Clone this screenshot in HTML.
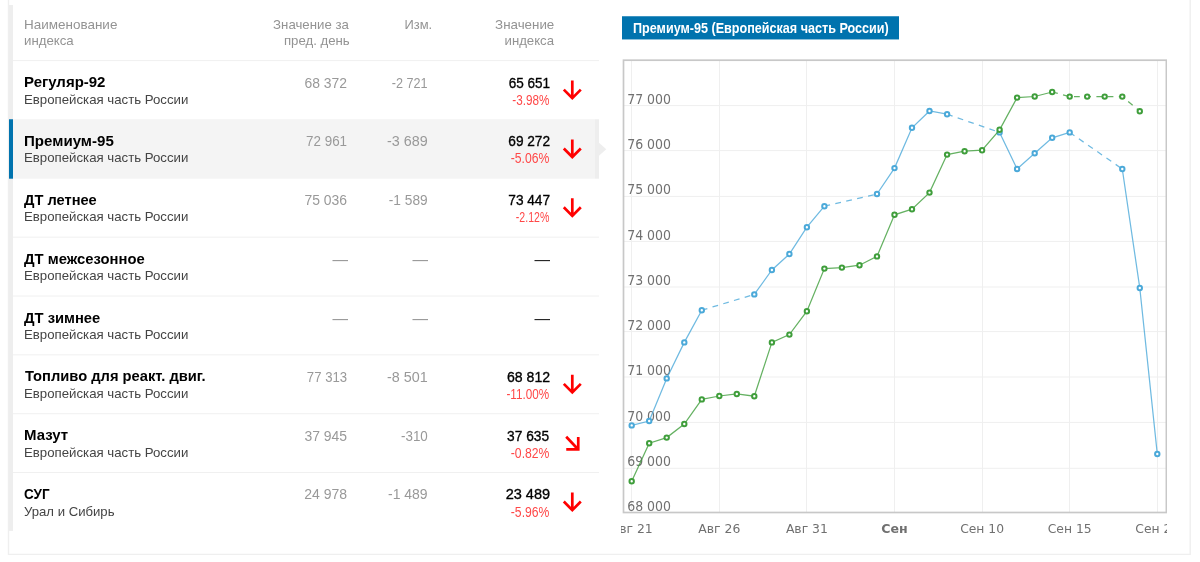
<!DOCTYPE html>
<html lang="ru">
<head>
<meta charset="utf-8">
<title>Индексы</title>
<style>
html,body{margin:0;padding:0;background:#fff;}
body{width:1200px;height:562px;position:relative;overflow:hidden;font-family:"Liberation Sans", sans-serif;}
.t{position:absolute;white-space:nowrap;line-height:20px;display:block;}
.idx{-webkit-text-stroke:0.35px #000;}
.bg{position:absolute;left:0;top:0;display:block;}
.chartwrap{position:absolute;left:0;top:0;width:1200px;height:562px;}
.chart{position:absolute;display:block;overflow:hidden;}
.yl{font-family:"DejaVu Sans", "Liberation Sans", sans-serif;font-size:13.6px;fill:#707070;}
.xl{font-family:"DejaVu Sans", "Liberation Sans", sans-serif;font-size:12.8px;fill:#707070;}
</style>
</head>
<body>
<svg class="bg" width="1200" height="562" viewBox="0 0 1200 562">
<path d="M8.5 -2V554.4H1190.2V-2" fill="none" stroke="#efefef" stroke-width="1.4"/>
<rect x="9" y="5" width="4" height="525.90" fill="#eeeeee"/>
<rect x="13" y="119.25" width="582" height="59.45" fill="#f4f4f4"/>
<rect x="595" y="119.25" width="4" height="59.45" fill="#eeeeee"/>
<rect x="9" y="119.25" width="4" height="59.45" fill="#0073ae"/>
<path d="M599 142.75L606.3 149.25L599 155.75Z" fill="#eeeeee"/>
<line x1="13" y1="60.60" x2="599" y2="60.60" stroke="#f0f0f0" stroke-width="1"/>
<line x1="13" y1="237.15" x2="599" y2="237.15" stroke="#f0f0f0" stroke-width="1"/>
<line x1="13" y1="296.00" x2="599" y2="296.00" stroke="#f0f0f0" stroke-width="1"/>
<line x1="13" y1="354.85" x2="599" y2="354.85" stroke="#f0f0f0" stroke-width="1"/>
<line x1="13" y1="413.70" x2="599" y2="413.70" stroke="#f0f0f0" stroke-width="1"/>
<line x1="13" y1="472.55" x2="599" y2="472.55" stroke="#f0f0f0" stroke-width="1"/>
<rect x="622" y="16.25" width="277" height="23.2" fill="#0073ae"/>
<path transform="translate(561 79.10)" d="M11.3 1.5V19.1 M2.8 10.5L11.3 19.1L19.8 10.5" fill="none" stroke="#ff0000" stroke-width="2.7"/>
<path transform="translate(561 137.95)" d="M11.3 1.5V19.1 M2.8 10.5L11.3 19.1L19.8 10.5" fill="none" stroke="#ff0000" stroke-width="2.7"/>
<path transform="translate(561 196.80)" d="M11.3 1.5V19.1 M2.8 10.5L11.3 19.1L19.8 10.5" fill="none" stroke="#ff0000" stroke-width="2.7"/>
<path transform="translate(561 373.35)" d="M11.3 1.5V19.1 M2.8 10.5L11.3 19.1L19.8 10.5" fill="none" stroke="#ff0000" stroke-width="2.7"/>
<path transform="translate(561 432.20)" d="M5.2 4.6L17.25 17.25 M5.25 17.25H18.6 M17.25 17.25V4.7" fill="none" stroke="#ff0000" stroke-width="2.7"/>
<path transform="translate(561 491.05)" d="M11.3 1.5V19.1 M2.8 10.5L11.3 19.1L19.8 10.5" fill="none" stroke="#ff0000" stroke-width="2.7"/>
</svg>
<span class="t" style="top:15.00px;font-size:13.6px;color:#939393;left:23.91px;transform-origin:0 0;transform:scaleX(0.9908);">Наименование</span>
<span class="t" style="top:31.00px;font-size:13.6px;color:#939393;left:23.93px;transform-origin:0 0;transform:scaleX(0.9740);">индекса</span>
<span class="t" style="top:15.00px;font-size:13.6px;color:#939393;right:850.84px;transform-origin:100% 0;transform:scaleX(0.9729);">Значение за</span>
<span class="t" style="top:31.00px;font-size:13.6px;color:#939393;right:849.81px;transform-origin:100% 0;transform:scaleX(0.9721);">пред. день</span>
<span class="t" style="top:15.00px;font-size:13.6px;color:#939393;right:767.91px;transform-origin:100% 0;transform:scaleX(0.9519);">Изм.</span>
<span class="t" style="top:15.00px;font-size:13.6px;color:#939393;right:645.96px;transform-origin:100% 0;transform:scaleX(0.9823);">Значение</span>
<span class="t" style="top:31.00px;font-size:13.6px;color:#939393;right:646.44px;transform-origin:100% 0;transform:scaleX(0.9700);">индекса</span>
<span class="t name" style="top:72.00px;font-size:14.8px;color:#000;font-weight:700;left:23.89px;transform-origin:0 0;transform:scaleX(1.0133);">Регуляр-92</span>
<span class="t sub" style="top:90.00px;font-size:13.6px;color:#444;left:23.93px;transform-origin:0 0;transform:scaleX(0.9725);">Европейская часть России</span>
<span class="t val" style="top:73.00px;font-size:15.4px;color:#999;right:852.75px;transform-origin:100% 0;transform:scaleX(0.9044);">68 372</span>
<span class="t val" style="top:73.00px;font-size:15.4px;color:#999;right:772.57px;transform-origin:100% 0;transform:scaleX(0.8213);">-2 721</span>
<span class="t idx" style="top:73.00px;font-size:15.4px;color:#000;right:650.37px;transform-origin:100% 0;transform:scaleX(0.8791);">65 651</span>
<span class="t pct" style="top:90.00px;font-size:14px;color:#ff4848;right:650.70px;transform-origin:100% 0;transform:scaleX(0.8368);">-3.98%</span>
<span class="t name" style="top:131.00px;font-size:14.8px;color:#000;font-weight:700;left:23.88px;transform-origin:0 0;transform:scaleX(1.0190);">Премиум-95</span>
<span class="t sub" style="top:148.00px;font-size:13.6px;color:#444;left:23.93px;transform-origin:0 0;transform:scaleX(0.9725);">Европейская часть России</span>
<span class="t val" style="top:131.00px;font-size:15.4px;color:#999;right:852.78px;transform-origin:100% 0;transform:scaleX(0.8714);">72 961</span>
<span class="t val" style="top:131.00px;font-size:15.4px;color:#999;right:772.50px;transform-origin:100% 0;transform:scaleX(0.9325);">-3 689</span>
<span class="t idx" style="top:131.00px;font-size:15.4px;color:#000;right:650.36px;transform-origin:100% 0;transform:scaleX(0.8879);">69 272</span>
<span class="t pct" style="top:148.00px;font-size:14px;color:#ff4848;right:650.69px;transform-origin:100% 0;transform:scaleX(0.8713);">-5.06%</span>
<span class="t name" style="top:190.00px;font-size:14.8px;color:#000;font-weight:700;left:24.00px;transform-origin:0 0;transform:scaleX(0.9890);">ДТ летнее</span>
<span class="t sub" style="top:207.00px;font-size:13.6px;color:#444;left:23.93px;transform-origin:0 0;transform:scaleX(0.9725);">Европейская часть России</span>
<span class="t val" style="top:190.00px;font-size:15.4px;color:#999;right:852.98px;transform-origin:100% 0;transform:scaleX(0.9049);">75 036</span>
<span class="t val" style="top:190.00px;font-size:15.4px;color:#999;right:772.53px;transform-origin:100% 0;transform:scaleX(0.8911);">-1 589</span>
<span class="t idx" style="top:190.00px;font-size:15.4px;color:#000;right:650.36px;transform-origin:100% 0;transform:scaleX(0.8879);">73 447</span>
<span class="t pct" style="top:207.00px;font-size:14px;color:#ff4848;right:650.73px;transform-origin:100% 0;transform:scaleX(0.7563);">-2.12%</span>
<span class="t name" style="top:249.00px;font-size:14.8px;color:#000;font-weight:700;left:24.00px;transform-origin:0 0;transform:scaleX(1.0017);">ДТ межсезонное</span>
<span class="t sub" style="top:266.00px;font-size:13.6px;color:#444;left:23.93px;transform-origin:0 0;transform:scaleX(0.9725);">Европейская часть России</span>
<span class="t dash" style="top:250.00px;font-size:16px;color:#999;right:852.40px;transform-origin:100% 0;transform:scaleX(0.9750);">—</span>
<span class="t dash" style="top:250.00px;font-size:16px;color:#999;right:771.80px;transform-origin:100% 0;transform:scaleX(0.9750);">—</span>
<span class="t dash" style="top:250.00px;font-size:16px;color:#222;right:650.20px;transform-origin:100% 0;transform:scaleX(0.9750);">—</span>
<span class="t name" style="top:308.00px;font-size:14.8px;color:#000;font-weight:700;left:24.00px;transform-origin:0 0;transform:scaleX(0.9974);">ДТ зимнее</span>
<span class="t sub" style="top:325.00px;font-size:13.6px;color:#444;left:23.93px;transform-origin:0 0;transform:scaleX(0.9725);">Европейская часть России</span>
<span class="t dash" style="top:309.00px;font-size:16px;color:#999;right:852.40px;transform-origin:100% 0;transform:scaleX(0.9750);">—</span>
<span class="t dash" style="top:309.00px;font-size:16px;color:#999;right:771.80px;transform-origin:100% 0;transform:scaleX(0.9750);">—</span>
<span class="t dash" style="top:309.00px;font-size:16px;color:#222;right:650.20px;transform-origin:100% 0;transform:scaleX(0.9750);">—</span>
<span class="t name" style="top:366.00px;font-size:14.8px;color:#000;font-weight:700;left:24.65px;transform-origin:0 0;transform:scaleX(0.9942);">Топливо для реакт. двиг.</span>
<span class="t sub" style="top:384.00px;font-size:13.6px;color:#444;left:23.93px;transform-origin:0 0;transform:scaleX(0.9725);">Европейская часть России</span>
<span class="t val" style="top:367.00px;font-size:15.4px;color:#999;right:853.01px;transform-origin:100% 0;transform:scaleX(0.8546);">77 313</span>
<span class="t val" style="top:367.00px;font-size:15.4px;color:#999;right:772.50px;transform-origin:100% 0;transform:scaleX(0.9325);">-8 501</span>
<span class="t idx" style="top:367.00px;font-size:15.4px;color:#000;right:650.34px;transform-origin:100% 0;transform:scaleX(0.9165);">68 812</span>
<span class="t pct" style="top:384.00px;font-size:14px;color:#ff4848;right:650.70px;transform-origin:100% 0;transform:scaleX(0.8358);">-11.00%</span>
<span class="t name" style="top:425.00px;font-size:14.8px;color:#000;font-weight:700;left:23.89px;transform-origin:0 0;transform:scaleX(1.0130);">Мазут</span>
<span class="t sub" style="top:443.00px;font-size:13.6px;color:#444;left:23.93px;transform-origin:0 0;transform:scaleX(0.9725);">Европейская часть России</span>
<span class="t val" style="top:426.00px;font-size:15.4px;color:#999;right:852.98px;transform-origin:100% 0;transform:scaleX(0.9065);">37 945</span>
<span class="t val" style="top:426.00px;font-size:15.4px;color:#999;right:772.61px;transform-origin:100% 0;transform:scaleX(0.8712);">-310</span>
<span class="t idx" style="top:426.00px;font-size:15.4px;color:#000;right:650.58px;transform-origin:100% 0;transform:scaleX(0.8913);">37 635</span>
<span class="t pct" style="top:443.00px;font-size:14px;color:#ff4848;right:650.69px;transform-origin:100% 0;transform:scaleX(0.8690);">-0.82%</span>
<span class="t name" style="top:484.00px;font-size:14.8px;color:#000;font-weight:700;left:24.44px;transform-origin:0 0;transform:scaleX(0.9101);">СУГ</span>
<span class="t sub" style="top:502.00px;font-size:13.6px;color:#444;left:24.42px;transform-origin:0 0;transform:scaleX(0.9665);">Урал и Сибирь</span>
<span class="t val" style="top:484.00px;font-size:15.4px;color:#999;right:852.97px;transform-origin:100% 0;transform:scaleX(0.9115);">24 978</span>
<span class="t val" style="top:484.00px;font-size:15.4px;color:#999;right:772.52px;transform-origin:100% 0;transform:scaleX(0.9089);">-1 489</span>
<span class="t idx" style="top:484.00px;font-size:15.4px;color:#000;right:650.32px;transform-origin:100% 0;transform:scaleX(0.9429);">23 489</span>
<span class="t pct" style="top:502.00px;font-size:14px;color:#ff4848;right:650.69px;transform-origin:100% 0;transform:scaleX(0.8690);">-5.96%</span>
<span class="t ttl" style="top:18.00px;font-size:14.4px;color:#fff;font-weight:700;left:632.62px;transform-origin:0 0;transform:scaleX(0.8750);">Премиум-95 (Европейская часть России)</span>
<div class="chartwrap"><svg class="chart" width="546.2" height="500" viewBox="621 55 546.2 500" style="left:621px;top:55px">
<line x1="631.5" y1="60.2" x2="631.5" y2="512.5" stroke="#efefef" stroke-width="1"/>
<line x1="719.5" y1="60.2" x2="719.5" y2="512.5" stroke="#efefef" stroke-width="1"/>
<line x1="806.5" y1="60.2" x2="806.5" y2="512.5" stroke="#efefef" stroke-width="1"/>
<line x1="894.5" y1="60.2" x2="894.5" y2="512.5" stroke="#efefef" stroke-width="1"/>
<line x1="982.5" y1="60.2" x2="982.5" y2="512.5" stroke="#efefef" stroke-width="1"/>
<line x1="1069.5" y1="60.2" x2="1069.5" y2="512.5" stroke="#efefef" stroke-width="1"/>
<line x1="1157.5" y1="60.2" x2="1157.5" y2="512.5" stroke="#efefef" stroke-width="1"/>
<line x1="623.5" y1="105.60" x2="1166.4" y2="105.60" stroke="#efefef" stroke-width="1"/>
<line x1="623.5" y1="150.60" x2="1166.4" y2="150.60" stroke="#efefef" stroke-width="1"/>
<line x1="623.5" y1="196.40" x2="1166.4" y2="196.40" stroke="#efefef" stroke-width="1"/>
<line x1="623.5" y1="241.40" x2="1166.4" y2="241.40" stroke="#efefef" stroke-width="1"/>
<line x1="623.5" y1="287.00" x2="1166.4" y2="287.00" stroke="#efefef" stroke-width="1"/>
<line x1="623.5" y1="331.60" x2="1166.4" y2="331.60" stroke="#efefef" stroke-width="1"/>
<line x1="623.5" y1="377.00" x2="1166.4" y2="377.00" stroke="#efefef" stroke-width="1"/>
<line x1="623.5" y1="422.40" x2="1166.4" y2="422.40" stroke="#efefef" stroke-width="1"/>
<line x1="623.5" y1="468.30" x2="1166.4" y2="468.30" stroke="#efefef" stroke-width="1"/>
<rect x="623.5" y="60.2" width="542.9000000000001" height="452.3" fill="none" stroke="#c8c8c8" stroke-width="1.7"/>
<text x="627.2" y="104.00" class="yl" textLength="43.8" lengthAdjust="spacingAndGlyphs">77 000</text>
<text x="627.2" y="149.25" class="yl" textLength="43.8" lengthAdjust="spacingAndGlyphs">76 000</text>
<text x="627.2" y="194.50" class="yl" textLength="43.8" lengthAdjust="spacingAndGlyphs">75 000</text>
<text x="627.2" y="239.75" class="yl" textLength="43.8" lengthAdjust="spacingAndGlyphs">74 000</text>
<text x="627.2" y="285.00" class="yl" textLength="43.8" lengthAdjust="spacingAndGlyphs">73 000</text>
<text x="627.2" y="330.25" class="yl" textLength="43.8" lengthAdjust="spacingAndGlyphs">72 000</text>
<text x="627.2" y="375.50" class="yl" textLength="43.8" lengthAdjust="spacingAndGlyphs">71 000</text>
<text x="627.2" y="420.75" class="yl" textLength="43.8" lengthAdjust="spacingAndGlyphs">70 000</text>
<text x="627.2" y="466.00" class="yl" textLength="43.8" lengthAdjust="spacingAndGlyphs">69 000</text>
<text x="627.2" y="511.25" class="yl" textLength="43.8" lengthAdjust="spacingAndGlyphs">68 000</text>
<text x="631.7" y="532.7" text-anchor="middle" class="xl" textLength="42.0" lengthAdjust="spacingAndGlyphs">Авг 21</text>
<text x="719.3" y="532.7" text-anchor="middle" class="xl" textLength="42.0" lengthAdjust="spacingAndGlyphs">Авг 26</text>
<text x="806.9" y="532.7" text-anchor="middle" class="xl" textLength="42.0" lengthAdjust="spacingAndGlyphs">Авг 31</text>
<text x="894.5" y="532.7" text-anchor="middle" class="xl" font-weight="700" textLength="26.5" lengthAdjust="spacingAndGlyphs">Сен</text>
<text x="982.1" y="532.7" text-anchor="middle" class="xl" textLength="43.9" lengthAdjust="spacingAndGlyphs">Сен 10</text>
<text x="1069.7" y="532.7" text-anchor="middle" class="xl" textLength="43.9" lengthAdjust="spacingAndGlyphs">Сен 15</text>
<text x="1157.3" y="532.7" text-anchor="middle" class="xl" textLength="43.9" lengthAdjust="spacingAndGlyphs">Сен 20</text>
<polyline points="631.7,425.4 649.2,421.0 666.7,378.4 684.3,342.4 701.8,310.2" fill="none" stroke="#4ba9d9" stroke-width="1.25" stroke-opacity="0.8"/>
<polyline points="754.3,294.4 771.9,270.0 789.4,254.0 806.9,227.2 824.4,206.2" fill="none" stroke="#4ba9d9" stroke-width="1.25" stroke-opacity="0.8"/>
<polyline points="877.0,194.0 894.5,168.1 912.0,127.8 929.5,111.0 947.1,114.2" fill="none" stroke="#4ba9d9" stroke-width="1.25" stroke-opacity="0.8"/>
<polyline points="999.6,132.4 1017.1,169.0 1034.7,153.2 1052.2,137.8 1069.7,132.4" fill="none" stroke="#4ba9d9" stroke-width="1.25" stroke-opacity="0.8"/>
<polyline points="1122.3,169.0 1139.8,288.0 1157.3,454.0" fill="none" stroke="#4ba9d9" stroke-width="1.25" stroke-opacity="0.8"/>
<polyline points="701.8,310.2 754.3,294.4" fill="none" stroke="#4ba9d9" stroke-width="1.25" stroke-opacity="0.8" stroke-dasharray="5.8 5.4"/>
<polyline points="824.4,206.2 877.0,194.0" fill="none" stroke="#4ba9d9" stroke-width="1.25" stroke-opacity="0.8" stroke-dasharray="5.8 5.4"/>
<polyline points="947.1,114.2 999.6,132.4" fill="none" stroke="#4ba9d9" stroke-width="1.25" stroke-opacity="0.8" stroke-dasharray="5.8 5.4"/>
<polyline points="1069.7,132.4 1122.3,169.0" fill="none" stroke="#4ba9d9" stroke-width="1.25" stroke-opacity="0.8" stroke-dasharray="5.8 5.4"/>
<circle cx="631.7" cy="425.4" r="2.2" fill="#fff" stroke="#4ba9d9" stroke-width="2"/><circle cx="649.2" cy="421.0" r="2.2" fill="#fff" stroke="#4ba9d9" stroke-width="2"/><circle cx="666.7" cy="378.4" r="2.2" fill="#fff" stroke="#4ba9d9" stroke-width="2"/><circle cx="684.3" cy="342.4" r="2.2" fill="#fff" stroke="#4ba9d9" stroke-width="2"/><circle cx="701.8" cy="310.2" r="2.2" fill="#fff" stroke="#4ba9d9" stroke-width="2"/><circle cx="754.3" cy="294.4" r="2.2" fill="#fff" stroke="#4ba9d9" stroke-width="2"/><circle cx="771.9" cy="270.0" r="2.2" fill="#fff" stroke="#4ba9d9" stroke-width="2"/><circle cx="789.4" cy="254.0" r="2.2" fill="#fff" stroke="#4ba9d9" stroke-width="2"/><circle cx="806.9" cy="227.2" r="2.2" fill="#fff" stroke="#4ba9d9" stroke-width="2"/><circle cx="824.4" cy="206.2" r="2.2" fill="#fff" stroke="#4ba9d9" stroke-width="2"/><circle cx="877.0" cy="194.0" r="2.2" fill="#fff" stroke="#4ba9d9" stroke-width="2"/><circle cx="894.5" cy="168.1" r="2.2" fill="#fff" stroke="#4ba9d9" stroke-width="2"/><circle cx="912.0" cy="127.8" r="2.2" fill="#fff" stroke="#4ba9d9" stroke-width="2"/><circle cx="929.5" cy="111.0" r="2.2" fill="#fff" stroke="#4ba9d9" stroke-width="2"/><circle cx="947.1" cy="114.2" r="2.2" fill="#fff" stroke="#4ba9d9" stroke-width="2"/><circle cx="999.6" cy="132.4" r="2.2" fill="#fff" stroke="#4ba9d9" stroke-width="2"/><circle cx="1017.1" cy="169.0" r="2.2" fill="#fff" stroke="#4ba9d9" stroke-width="2"/><circle cx="1034.7" cy="153.2" r="2.2" fill="#fff" stroke="#4ba9d9" stroke-width="2"/><circle cx="1052.2" cy="137.8" r="2.2" fill="#fff" stroke="#4ba9d9" stroke-width="2"/><circle cx="1069.7" cy="132.4" r="2.2" fill="#fff" stroke="#4ba9d9" stroke-width="2"/><circle cx="1122.3" cy="169.0" r="2.2" fill="#fff" stroke="#4ba9d9" stroke-width="2"/><circle cx="1139.8" cy="288.0" r="2.2" fill="#fff" stroke="#4ba9d9" stroke-width="2"/><circle cx="1157.3" cy="454.0" r="2.2" fill="#fff" stroke="#4ba9d9" stroke-width="2"/>
<polyline points="631.7,481.2 649.2,443.2 666.7,437.6 684.3,424.0 701.8,399.4 719.3,396.0 736.8,394.0 754.3,396.2 771.9,342.4 789.4,334.6 806.9,311.2 824.4,268.6 841.9,267.6 859.5,265.2 877.0,256.4 894.5,214.8 912.0,209.2 929.5,192.6 947.1,154.6 964.6,151.2 982.1,150.2 999.6,129.8 1017.1,97.6 1034.7,96.5 1052.2,92.0" fill="none" stroke="#3f9e3b" stroke-width="1.25" stroke-opacity="0.8"/>
<polyline points="1052.2,92.0 1069.7,96.6 1087.2,96.6 1104.7,96.6 1122.3,96.6 1139.8,111.2" fill="none" stroke="#3f9e3b" stroke-width="1.25" stroke-opacity="0.8" stroke-dasharray="5.8 5.4"/>
<circle cx="631.7" cy="481.2" r="2.2" fill="#fff" stroke="#3f9e3b" stroke-width="2"/><circle cx="649.2" cy="443.2" r="2.2" fill="#fff" stroke="#3f9e3b" stroke-width="2"/><circle cx="666.7" cy="437.6" r="2.2" fill="#fff" stroke="#3f9e3b" stroke-width="2"/><circle cx="684.3" cy="424.0" r="2.2" fill="#fff" stroke="#3f9e3b" stroke-width="2"/><circle cx="701.8" cy="399.4" r="2.2" fill="#fff" stroke="#3f9e3b" stroke-width="2"/><circle cx="719.3" cy="396.0" r="2.2" fill="#fff" stroke="#3f9e3b" stroke-width="2"/><circle cx="736.8" cy="394.0" r="2.2" fill="#fff" stroke="#3f9e3b" stroke-width="2"/><circle cx="754.3" cy="396.2" r="2.2" fill="#fff" stroke="#3f9e3b" stroke-width="2"/><circle cx="771.9" cy="342.4" r="2.2" fill="#fff" stroke="#3f9e3b" stroke-width="2"/><circle cx="789.4" cy="334.6" r="2.2" fill="#fff" stroke="#3f9e3b" stroke-width="2"/><circle cx="806.9" cy="311.2" r="2.2" fill="#fff" stroke="#3f9e3b" stroke-width="2"/><circle cx="824.4" cy="268.6" r="2.2" fill="#fff" stroke="#3f9e3b" stroke-width="2"/><circle cx="841.9" cy="267.6" r="2.2" fill="#fff" stroke="#3f9e3b" stroke-width="2"/><circle cx="859.5" cy="265.2" r="2.2" fill="#fff" stroke="#3f9e3b" stroke-width="2"/><circle cx="877.0" cy="256.4" r="2.2" fill="#fff" stroke="#3f9e3b" stroke-width="2"/><circle cx="894.5" cy="214.8" r="2.2" fill="#fff" stroke="#3f9e3b" stroke-width="2"/><circle cx="912.0" cy="209.2" r="2.2" fill="#fff" stroke="#3f9e3b" stroke-width="2"/><circle cx="929.5" cy="192.6" r="2.2" fill="#fff" stroke="#3f9e3b" stroke-width="2"/><circle cx="947.1" cy="154.6" r="2.2" fill="#fff" stroke="#3f9e3b" stroke-width="2"/><circle cx="964.6" cy="151.2" r="2.2" fill="#fff" stroke="#3f9e3b" stroke-width="2"/><circle cx="982.1" cy="150.2" r="2.2" fill="#fff" stroke="#3f9e3b" stroke-width="2"/><circle cx="999.6" cy="129.8" r="2.2" fill="#fff" stroke="#3f9e3b" stroke-width="2"/><circle cx="1017.1" cy="97.6" r="2.2" fill="#fff" stroke="#3f9e3b" stroke-width="2"/><circle cx="1034.7" cy="96.5" r="2.2" fill="#fff" stroke="#3f9e3b" stroke-width="2"/><circle cx="1052.2" cy="92.0" r="2.2" fill="#fff" stroke="#3f9e3b" stroke-width="2"/><circle cx="1069.7" cy="96.6" r="2.2" fill="#fff" stroke="#3f9e3b" stroke-width="2"/><circle cx="1087.2" cy="96.6" r="2.2" fill="#fff" stroke="#3f9e3b" stroke-width="2"/><circle cx="1104.7" cy="96.6" r="2.2" fill="#fff" stroke="#3f9e3b" stroke-width="2"/><circle cx="1122.3" cy="96.6" r="2.2" fill="#fff" stroke="#3f9e3b" stroke-width="2"/><circle cx="1139.8" cy="111.2" r="2.2" fill="#fff" stroke="#3f9e3b" stroke-width="2"/>
</svg></div>
</body>
</html>
